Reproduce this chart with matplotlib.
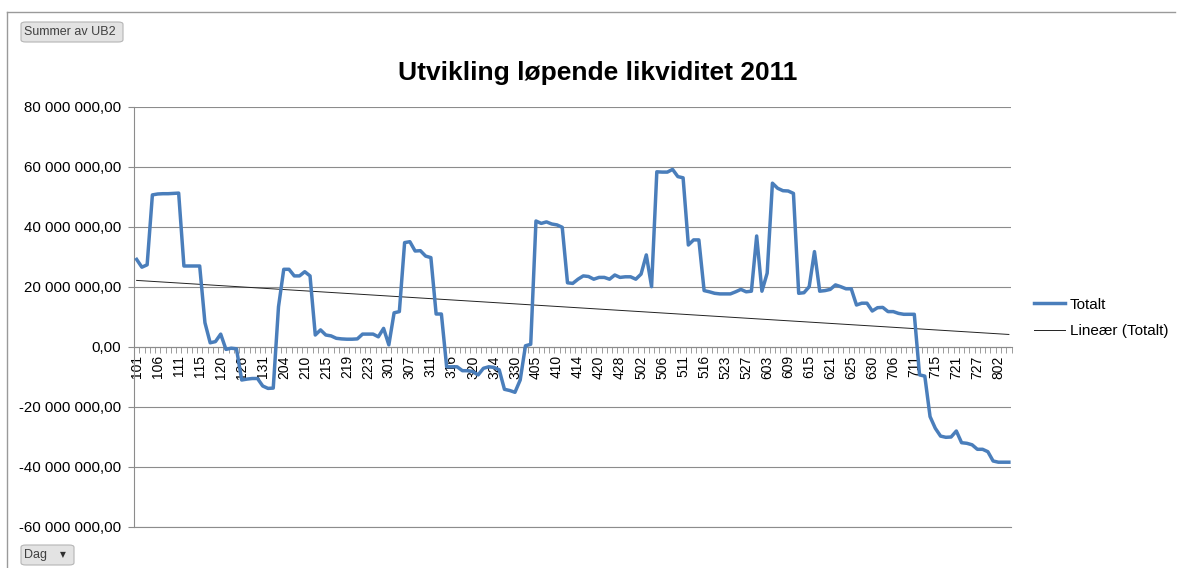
import numpy as np
import matplotlib
matplotlib.use("Agg")
import matplotlib.pyplot as plt
from matplotlib.ticker import FuncFormatter, FixedLocator
from matplotlib.patches import FancyBboxPatch
from matplotlib.lines import Line2D

# every 4th category on the axis carries a label (day code MDD)
tick_labels = ["101", "106", "111", "115", "120", "126", "131", "204", "210", "215",
               "219", "223", "301", "307", "311", "316", "320", "324", "330", "405",
               "410", "414", "420", "428", "502", "506", "511", "516", "523", "527",
               "603", "609", "615", "621", "625", "630", "706", "711", "715", "721",
               "727", "802"]
label_step = 4

# Totalt, in millions
totalt = [29.2, 26.6, 27.4, 50.7, 51.0, 51.1, 51.1, 51.2, 51.3, 27.0,
          27.0, 27.0, 27.0, 8.1, 1.4, 1.8, 4.3, -0.8, -0.4, -0.6,
          -11.0, -10.7, -10.5, -10.5, -13.0, -13.8, -13.7, 13.4, 25.9, 25.9,
          23.7, 23.7, 25.1, 23.7, 4.0, 5.7, 4.0, 3.7, 2.9, 2.7,
          2.6, 2.6, 2.7, 4.3, 4.3, 4.3, 3.4, 6.2, 0.7, 11.4,
          11.8, 34.8, 35.1, 32.0, 32.1, 30.3, 29.8, 11.0, 11.0, -6.6,
          -6.6, -6.6, -7.9, -7.9, -8.2, -9.3, -7.1, -6.6, -6.8, -7.6,
          -14.1, -14.5, -15.1, -11.0, 0.4, 0.9, 42.0, 41.2, 41.7, 41.0,
          40.7, 39.9, 21.4, 21.2, 22.6, 23.7, 23.5, 22.6, 23.2, 23.2,
          22.6, 24.0, 23.2, 23.4, 23.4, 22.6, 24.3, 30.7, 20.1, 58.4,
          58.3, 58.3, 59.2, 56.8, 56.4, 34.0, 35.7, 35.7, 18.8, 18.4,
          17.9, 17.7, 17.7, 17.7, 18.4, 19.2, 18.4, 18.6, 37.0, 18.6,
          24.6, 54.6, 52.9, 52.1, 52.0, 51.2, 17.9, 18.1, 20.1, 31.8,
          18.6, 18.8, 19.2, 20.7, 20.1, 19.4, 19.4, 14.0, 14.6, 14.6,
          12.0, 13.1, 13.2, 11.8, 11.8, 11.2, 10.9, 10.9, 10.9, -9.3,
          -9.7, -23.2, -27.1, -29.7, -30.1, -30.0, -28.0, -31.9, -32.1, -32.6,
          -34.1, -34.1, -34.9, -38.0, -38.4, -38.4, -38.4]

W, H = 1178, 568
plt.rcParams['font.family'] = ['Liberation Sans', 'DejaVu Sans']

fig = plt.figure(figsize=(W / 100, H / 100), dpi=100)
ax = fig.add_axes([134 / W, 1 - 527 / H, (1011.5 - 134) / W, (527 - 107) / H])

y = np.array(totalt) * 1e6
x = np.arange(len(y))
coef = np.polyfit(x, y, 1)

ax.plot(x, y, color='#4A7EBB', lw=2.5, solid_joinstyle='round', label='Totalt', zorder=3)
ax.plot(x, np.polyval(coef, x), color='#222222', lw=0.7, label='Lineær (Totalt)', zorder=2)

ax.set_xlim(-0.5, len(y) - 0.5)
ax.set_ylim(-60e6, 80e6)
ax.set_yticks(np.arange(-60e6, 80e6 + 1, 20e6))
ax.yaxis.set_major_formatter(FuncFormatter(
    lambda v, p: f"{v:,.2f}".replace(",", " ").replace(".", ",")))
ax.grid(axis='y', color='#8C8C8C', lw=0.8)
ax.axhline(-60e6, color='#8C8C8C', lw=0.8, clip_on=False, zorder=0)
ax.set_axisbelow(True)

for s in ['top', 'right']:
    ax.spines[s].set_visible(False)
ax.spines['left'].set_color('#8C8C8C')
ax.spines['bottom'].set_color('#8C8C8C')
ax.spines['bottom'].set_position(('data', 0))

ax.set_xticks(np.arange(0, len(tick_labels) * label_step, label_step))
ax.set_xticklabels(tick_labels, rotation=90)
ax.xaxis.set_minor_locator(FixedLocator(np.arange(-0.5, len(y), 1)))
ax.tick_params(axis='x', which='major', length=0, pad=6, labelsize=10)
ax.tick_params(axis='x', which='minor', length=4, color='#8C8C8C', direction='out')
ax.tick_params(axis='y', length=4, color='#8C8C8C', labelsize=10.8, pad=5)

fig.text(598 / W, 1 - 73 / H, 'Utvikling løpende likviditet 2011', fontsize=19,
         fontweight='bold', ha='center', va='center')

ax.legend(loc='center left', bbox_to_anchor=(1034 / W, 1 - 318 / H),
          bbox_transform=fig.transFigure, frameon=False, fontsize=11,
          handlelength=2.0, labelspacing=0.85, handletextpad=0.35,
          borderpad=0, borderaxespad=0)

# outer frame of the pivot chart
fig.add_artist(Line2D([7 / W, 7 / W], [0, 1 - 12 / H], color='#9A9A9A', lw=1))
fig.add_artist(Line2D([7 / W, 1175 / W], [1 - 12 / H, 1 - 12 / H], color='#9A9A9A', lw=1))

def button(x0, y0, w, h, text):
    fig.add_artist(FancyBboxPatch((x0 / W, 1 - (y0 + h) / H), w / W, h / H,
                                  boxstyle='round,pad=0,rounding_size=0.004',
                                  transform=fig.transFigure, facecolor='#E3E3E3',
                                  edgecolor='#B5B5B5', lw=0.8))
    fig.text((x0 + 3) / W, 1 - (y0 + h / 2) / H, text, fontsize=9,
             color='#404040', va='center', ha='left')

button(21, 22, 102, 20, 'Summer av UB2')
button(21, 545, 53, 20, 'Dag')
fig.text(63 / W, 1 - 555 / H, '▼', fontsize=5.5, color='#303030',
         va='center', ha='center', family='DejaVu Sans')

fig.savefig('out.png', dpi=100)
